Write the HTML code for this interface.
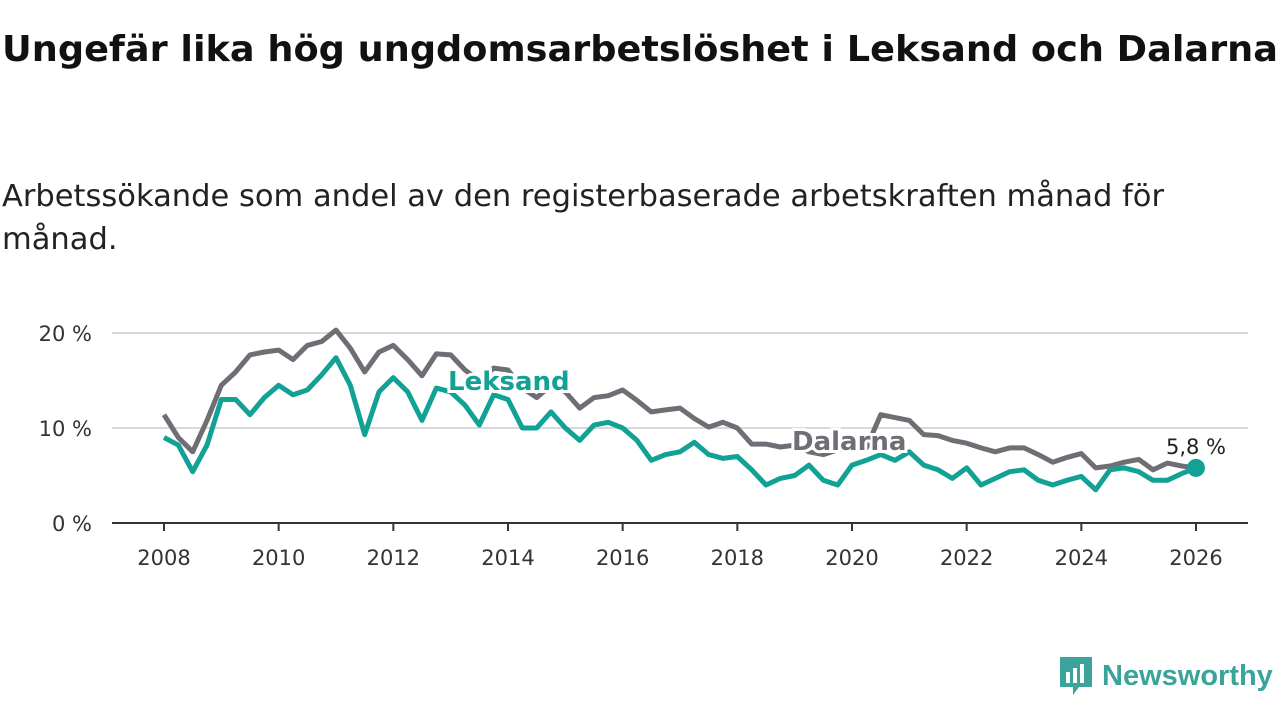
<!DOCTYPE html>
<html><head><meta charset="utf-8"><style>
body{margin:0;width:1280px;height:720px;background:#fff;font-family:"DejaVu Sans","Liberation Sans",sans-serif;overflow:hidden;position:relative}
h1{position:absolute;left:2px;top:29px;margin:0;font-size:36px;font-weight:bold;color:#111;white-space:nowrap;transform-origin:0 0}
.sub{position:absolute;left:2px;top:175px;margin:0;font-size:30px;line-height:43px;color:#222;width:1200px;white-space:nowrap;transform-origin:0 0}
</style></head><body>
<h1 id="ttl">Ungefär lika hög ungdomsarbetslöshet i Leksand och Dalarna</h1>
<p class="sub" id="sub"><span id="l1">Arbetssökande som andel av den registerbaserade arbetskraften månad för</span><br>månad.</p>
<svg id="chart" width="1280" height="720" style="position:absolute;left:0;top:0"></svg>
<div style="position:absolute;left:1058px;top:655px;display:flex;align-items:center;gap:8px">
<svg width="36" height="42"><path d="M2 2h32v30h-13l-6 8v-8H2z" fill="#3aa39a"/><rect x="8" y="17" width="4" height="11" fill="#fff"/><rect x="15" y="13" width="4" height="15" fill="#fff"/><rect x="22" y="9" width="4" height="19" fill="#fff"/></svg>
<span style="font-size:29px;color:#3aa39a;font-weight:bold;font-family:'Liberation Sans',sans-serif">Newsworthy</span></div>
<script>
const years=[2008,2010,2012,2014,2016,2018,2020,2022,2024,2026];
const yTicks=[0,10,20];
const startYear=2008, step=0.25;
const dalarna=[11.4,9,7.5,10.8,14.5,15.9,17.7,18,18.2,17.2,18.7,19.1,20.3,18.4,15.9,18,18.7,17.2,15.5,17.8,17.7,16.1,15,16.3,16.1,14.2,13.2,14.5,13.8,12.1,13.2,13.4,14,12.9,11.7,11.9,12.1,11,10.1,10.6,10,8.3,8.3,8,8.2,7.5,7.2,7.7,7.9,7.9,11.4,11.1,10.8,9.3,9.2,8.7,8.4,7.9,7.5,7.9,7.9,7.2,6.4,6.9,7.3,5.8,6,6.4,6.7,5.6,6.3,6,5.8];
const leksand=[9,8.2,5.4,8.2,13,13,11.4,13.2,14.5,13.5,14,15.6,17.4,14.5,9.3,13.8,15.3,13.8,10.8,14.2,13.8,12.4,10.3,13.5,13,10,10,11.7,10,8.7,10.3,10.6,10,8.7,6.6,7.2,7.5,8.5,7.2,6.8,7,5.6,4,4.7,5,6.1,4.5,4,6.1,6.6,7.2,6.6,7.5,6.1,5.6,4.7,5.8,4,4.7,5.4,5.6,4.5,4,4.5,4.9,3.5,5.6,5.8,5.4,4.5,4.5,5.2,5.8];
const ttl=document.getElementById('ttl');
ttl.style.transform='scaleX('+(1276/ttl.getBoundingClientRect().width)+')';
const l1=document.getElementById('l1');
document.getElementById('sub').style.transform='scaleX('+(1162/l1.getBoundingClientRect().width)+')';
const NS="http://www.w3.org/2000/svg",svg=document.getElementById('chart');
const F="DejaVu Sans, Liberation Sans, sans-serif";
const X=t=>164+(t-2008)*(1032/18), Y=v=>523-v*9.5;
function mk(tag,at,txt){const e=document.createElementNS(NS,tag);for(const k in at)e.setAttribute(k,at[k]);if(txt!==undefined)e.textContent=txt;svg.appendChild(e);return e;}
yTicks.forEach(v=>{
 if(v>0){const g=mk('line',{x1:112,x2:1248,y1:Y(v),y2:Y(v),stroke:'#d9d9d9','stroke-width':2});
 
 }
 const t=mk('text',{x:92,y:Y(v)+8,'text-anchor':'end','font-size':21,fill:'#333','font-family':F},v+' %');
 
 
});
const ax=mk('line',{x1:112,x2:1248,y1:523,y2:523,stroke:'#333','stroke-width':2});


years.forEach(y=>{
 const tk=mk('line',{x1:X(y),x2:X(y),y1:523,y2:531,stroke:'#333','stroke-width':2});
 
 
 const t=mk('text',{x:X(y),y:565,'text-anchor':'middle','font-size':21,fill:'#333','font-family':F},y);
 
 
});
function line(arr,col,name){
 const d=arr.map((v,i)=>(i?'L':'M')+X(startYear+i*step).toFixed(1)+' '+Y(v).toFixed(1)).join('');
 const p=mk('path',{d:d,fill:'none',stroke:col,'stroke-width':5,'stroke-linejoin':'round'});
 
 
}
line(dalarna,'#6f6e74','line-dalarna');
line(leksand,'#12a195','line-leksand');
function lab(x,y,txt,col,name){
 const h=mk('text',{x:x,y:y,'font-size':26,'font-weight':'bold',fill:'#fff',stroke:'#fff','stroke-width':6,'font-family':F},txt);
 
 
 const t=mk('text',{x:x,y:y,'font-size':26,'font-weight':'bold',fill:col,'font-family':F},txt);
 
 
}
lab(448,390,'Leksand','#12a195','label-leksand');
lab(792,450,'Dalarna','#6f6e74','label-dalarna');
const last=leksand[leksand.length-1];
const dot=mk('circle',{cx:X(2026),cy:Y(last),r:9,fill:'#12a195'});


const lv=mk('text',{x:X(2026),y:Y(last)-14,'text-anchor':'middle','font-size':21,fill:'#222','font-family':F},String(last).replace('.',',')+' %');


</script>
</body></html>
